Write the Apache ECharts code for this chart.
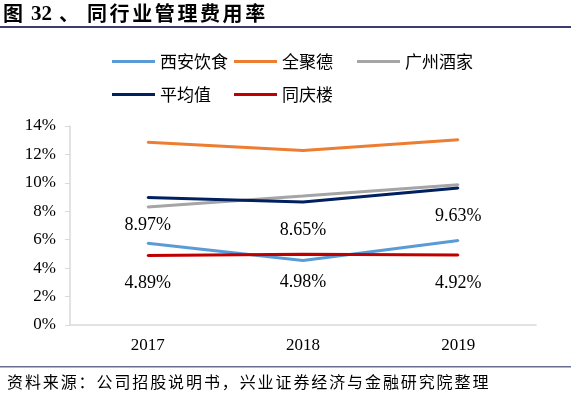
<!DOCTYPE html>
<html><head><meta charset="utf-8">
<script src="https://cdn.jsdelivr.net/npm/echarts@6/dist/echarts.min.js"></script>
<style>html,body{margin:0;padding:0;background:#fff}#c{width:577px;height:397px}</style>
</head><body><div id="c"></div>
<script>
var categories = ['2017', '2018', '2019'];
var xianYinShi = [5.75, 4.53, 5.94];
var quanJuDe = [12.86, 12.27, 13.03];
var guangZhouJiuJia = [8.31, 9.08, 9.86];
var pingJunZhi = [8.97, 8.65, 9.63];
var tongQingLou = [4.89, 4.98, 4.92];
var yTicks = ['0%', '2%', '4%', '6%', '8%', '10%', '12%', '14%'];
var titleText = '同行业管理费用率';
var sourceText = '资料来源：公司招股说明书，兴业证券经济与金融研究院整理';

var serif = 'Liberation Serif, Times New Roman, serif';
var cjk = 'Noto Sans CJK SC, sans-serif';
var chart = echarts.init(document.getElementById('c'));

function leg(name, left, top) {
  return {
    data: [name], left: left, top: top, itemWidth: 43, itemHeight: 3, itemGap: 0,
    icon: 'rect', textStyle: { fontFamily: cjk, fontSize: 17, color: '#000' },
    selectedMode: false
  };
}
function line(name, data, color, label) {
  return {
    name: name, type: 'line', data: data, symbol: 'circle', symbolSize: 2, showSymbol: true,
    lineStyle: { width: 3, color: color }, itemStyle: { color: color },
    label: label ? {
      show: true, position: 'bottom', distance: 18, fontFamily: serif, fontSize: 18, color: '#000',
      formatter: function (p) { return p.value.toFixed(2) + '%'; }
    } : { show: false },
    emphasis: { disabled: true },
    z: label ? 3 : 2
  };
}

var graphics = [
  { type: 'text', left: 3, top: 3, style: { text: '图', font: 'bold 20px ' + cjk, fill: '#000' } },
  { type: 'text', left: 31, top: 4, style: { text: '32', font: 'bold 21px ' + serif, fill: '#000' } },
  { type: 'text', left: 59, top: 3, style: { text: '、', font: 'bold 20px ' + cjk, fill: '#000' } },
  { type: 'rect', shape: { x: 0, y: 26, width: 571, height: 2 }, style: { fill: '#3b3d6b' } },
  { type: 'rect', shape: { x: 0, y: 366, width: 571, height: 1.5 }, style: { fill: '#6a6d8f' } }
];
titleText.split('').forEach(function (ch, i) {
  graphics.push({ type: 'text', left: 87 + i * 22.6, top: 3, style: { text: ch, font: 'bold 20px ' + cjk, fill: '#000' } });
});
sourceText.split('').forEach(function (ch, i) {
  graphics.push({ type: 'text', left: 7 + i * 17.9, top: 374, style: { text: ch, font: '16px ' + cjk, fill: '#000' } });
});

chart.setOption({
  animation: false,
  legend: [
    leg('西安饮食', 107, 48),
    leg('全聚德', 229, 48),
    leg('广州酒家', 352, 48),
    leg('平均值', 107, 81),
    leg('同庆楼', 229, 81)
  ],
  graphic: graphics,
  grid: { left: 70, right: 41, top: 126, bottom: 72 },
  xAxis: {
    type: 'category', data: categories, boundaryGap: true,
    axisLine: { lineStyle: { color: '#d9d9d9', width: 1.5 } },
    axisTick: { show: false },
    axisLabel: { fontFamily: serif, fontSize: 17, color: '#000', margin: 12 }
  },
  yAxis: {
    type: 'value', min: 0, max: 14, interval: 2,
    axisLine: { show: true, lineStyle: { color: '#d9d9d9', width: 1.5 } },
    axisTick: { show: true, length: 5, lineStyle: { color: '#d9d9d9' } },
    splitLine: { show: false },
    axisLabel: {
      fontFamily: serif, fontSize: 17, color: '#000', margin: 14,
      formatter: function (v) { return yTicks[Math.round(v / 2)]; }
    }
  },
  series: [
    line('西安饮食', xianYinShi, '#5B9BD5', false),
    line('全聚德', quanJuDe, '#ED7D31', false),
    line('广州酒家', guangZhouJiuJia, '#A5A5A5', false),
    line('平均值', pingJunZhi, '#002060', true),
    line('同庆楼', tongQingLou, '#C00000', true)
  ]
});
</script></body></html>
